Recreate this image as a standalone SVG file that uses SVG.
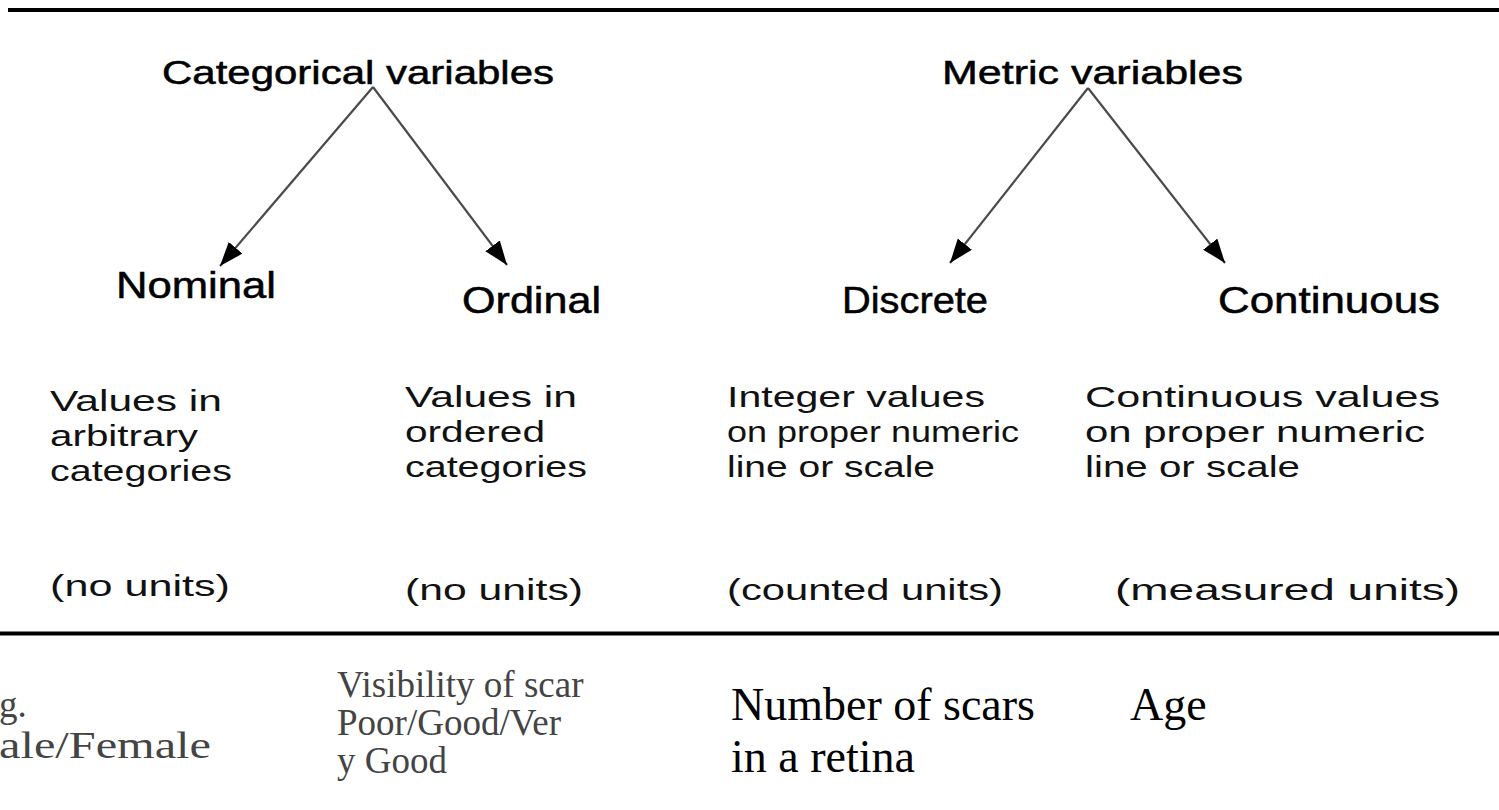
<svg xmlns="http://www.w3.org/2000/svg" width="1499" height="810" viewBox="0 0 1499 810">
<defs>
<style>
.h{font-family:"Liberation Sans",Arial,sans-serif;fill:#000;stroke:#000;stroke-width:0.5}
.b{font-family:"Liberation Sans",Arial,sans-serif;font-size:30px;fill:#111}
.s{font-family:"Liberation Serif","Times New Roman",serif;fill:#444}
.n{font-family:"Liberation Serif","Times New Roman",serif;fill:#000;font-size:46px}
.rule{stroke:#000;stroke-width:4}
.con{stroke:#4a4a4a;stroke-width:2.2;fill:none;marker-end:url(#ah)}
</style>
<marker id="ah" markerUnits="userSpaceOnUse" markerWidth="26" markerHeight="20" refX="24" refY="9" orient="auto">
<path d="M0,0 L24,9 L0,18 Z" fill="#000"/>
</marker>
</defs>
<rect width="1499" height="810" fill="#fff"/>
<line class="rule" x1="8" y1="10" x2="1499" y2="10"/>
<line class="rule" x1="0" y1="633.5" x2="1499" y2="633.5"/>
<g id="connectors">
<path class="con" d="M373,87 L220,266"/>
<path class="con" d="M373,87 L507,265"/>
<path class="con" d="M1088,88 L950,263"/>
<path class="con" d="M1088,88 L1225,263"/>
</g>
<g id="categorical"><text class="h" x="162" y="84" font-size="33" textLength="392" lengthAdjust="spacingAndGlyphs">Categorical variables</text></g>
<g id="metric"><text class="h" x="942" y="84" font-size="33" textLength="301" lengthAdjust="spacingAndGlyphs">Metric variables</text></g>
<g id="nominal">
<text class="h" x="116" y="298" font-size="36" textLength="160" lengthAdjust="spacingAndGlyphs">Nominal</text>
<text class="b" x="50" y="411" textLength="172" lengthAdjust="spacingAndGlyphs">Values in</text>
<text class="b" x="50" y="446" textLength="148" lengthAdjust="spacingAndGlyphs">arbitrary</text>
<text class="b" x="50" y="481" textLength="182" lengthAdjust="spacingAndGlyphs">categories</text>
<text class="b" x="50" y="596" textLength="180" lengthAdjust="spacingAndGlyphs">(no units)</text>
</g>
<g id="ordinal">
<text class="h" x="462" y="313" font-size="36" textLength="139" lengthAdjust="spacingAndGlyphs">Ordinal</text>
<text class="b" x="405" y="407" textLength="172" lengthAdjust="spacingAndGlyphs">Values in</text>
<text class="b" x="405" y="442" textLength="140" lengthAdjust="spacingAndGlyphs">ordered</text>
<text class="b" x="405" y="477" textLength="182" lengthAdjust="spacingAndGlyphs">categories</text>
<text class="b" x="405" y="600" textLength="178" lengthAdjust="spacingAndGlyphs">(no units)</text>
</g>
<g id="discrete">
<text class="h" x="842" y="313" font-size="36" textLength="146" lengthAdjust="spacingAndGlyphs">Discrete</text>
<text class="b" x="727" y="407" textLength="258" lengthAdjust="spacingAndGlyphs">Integer values</text>
<text class="b" x="727" y="442" textLength="292" lengthAdjust="spacingAndGlyphs">on proper numeric</text>
<text class="b" x="727" y="477" textLength="208" lengthAdjust="spacingAndGlyphs">line or scale</text>
<text class="b" x="727" y="600" textLength="276" lengthAdjust="spacingAndGlyphs">(counted units)</text>
</g>
<g id="continuous">
<text class="h" x="1218" y="313" font-size="36" textLength="222" lengthAdjust="spacingAndGlyphs">Continuous</text>
<text class="b" x="1085" y="407" textLength="355" lengthAdjust="spacingAndGlyphs">Continuous values</text>
<text class="b" x="1085" y="442" textLength="340" lengthAdjust="spacingAndGlyphs">on proper numeric</text>
<text class="b" x="1085" y="477" textLength="215" lengthAdjust="spacingAndGlyphs">line or scale</text>
<text class="b" x="1115" y="600" textLength="345" lengthAdjust="spacingAndGlyphs">(measured units)</text>
</g>
<g id="example-nominal">
<text class="s" x="-1" y="717" font-size="37">g.</text>
<text class="s" x="-1" y="758" font-size="37" textLength="212" lengthAdjust="spacingAndGlyphs">ale/Female</text>
</g>
<g id="example-ordinal">
<text class="s" x="337" y="697" font-size="37">Visibility of scar</text>
<text class="s" x="337" y="735" font-size="37">Poor/Good/Ver</text>
<text class="s" x="337" y="773" font-size="37">y Good</text>
</g>
<g id="example-discrete">
<text class="n" x="731" y="720">Number of scars</text>
<text class="n" x="731" y="772">in a retina</text>
</g>
<g id="example-continuous">
<text class="n" x="1130" y="720">Age</text>
</g>
</svg>
